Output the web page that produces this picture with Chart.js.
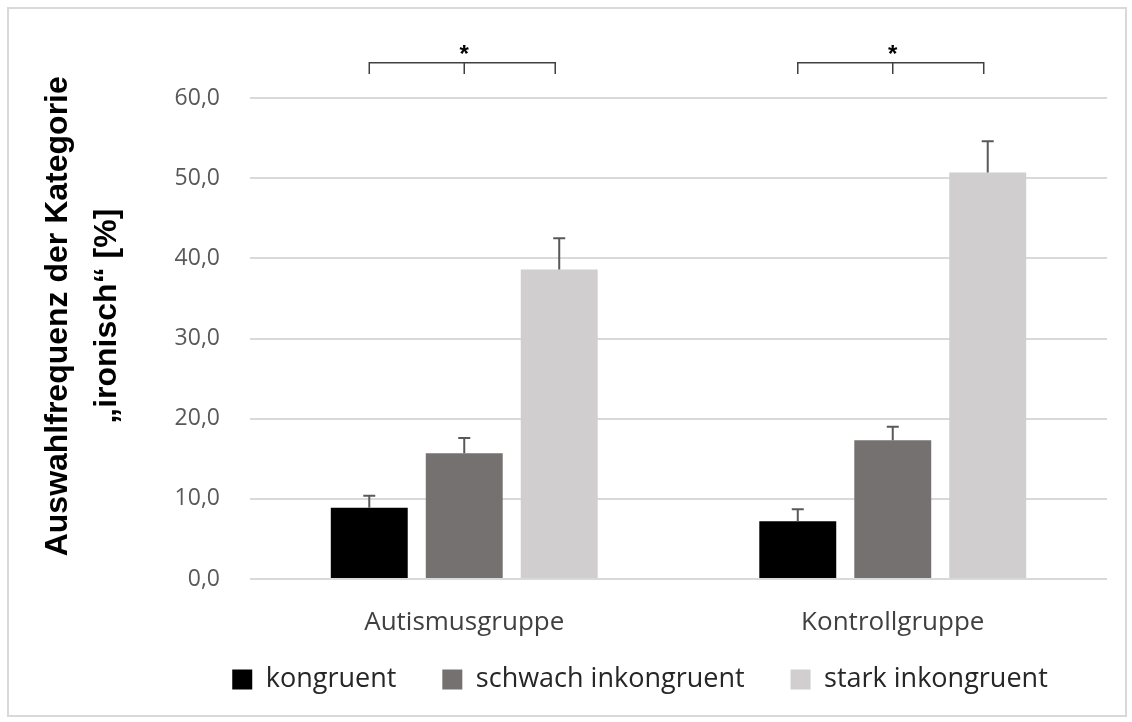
<!DOCTYPE html>
<html>
<head>
<meta charset="utf-8">
<script src="https://cdn.jsdelivr.net/npm/chart.js@4"></script>
<style>
  body { margin: 0; background: #fff; }
  #wrap { position: relative; width: 1132px; height: 722px; }
  #frame { position: absolute; left: 7px; top: 7px; width: 1116px; height: 706px; border: 2px solid #d9d9d9; pointer-events: none; }
</style>
</head>
<body>
<div id="wrap">
  <canvas id="chart" width="1132" height="722"></canvas>
  <div id="frame"></div>
</div>
<script>
const groups = ["Autismusgruppe", "Kontrollgruppe"];
const seriesNames = ["kongruent", "schwach inkongruent", "stark inkongruent"];
const kongruent = [8.9, 7.2];
const schwach = [15.7, 17.3];
const stark = [38.6, 50.7];
const kongruentErr = [1.5, 1.5];
const schwachErr = [1.9, 1.7];
const starkErr = [3.9, 3.9];
const yTicks = [0, 10, 20, 30, 40, 50, 60];
const yTitle = ["Auswahlfrequenz der Kategorie", "\u201eironisch\u201c [%]"];
const bracketLevel = 64.4;
const bracketDrop = 1.4;
const starLevel = 65.8;

const colors = ["#000000", "#767171", "#d0cece"];
const errors = [kongruentErr, schwachErr, starkErr];

const errorBars = {
  id: "errorBars",
  afterDatasetsDraw(chart) {
    const ctx = chart.ctx;
    const y = chart.scales.y;
    ctx.save();
    ctx.strokeStyle = "#595959";
    ctx.lineWidth = 2;
    chart.data.datasets.forEach((ds, i) => {
      chart.getDatasetMeta(i).data.forEach((bar, j) => {
        const top = y.getPixelForValue(ds.data[j] + errors[i][j]);
        ctx.beginPath();
        ctx.moveTo(bar.x, bar.y);
        ctx.lineTo(bar.x, top);
        ctx.moveTo(bar.x - 6, top);
        ctx.lineTo(bar.x + 6, top);
        ctx.stroke();
      });
    });
    ctx.restore();
  }
};

const brackets = {
  id: "brackets",
  afterDraw(chart) {
    const ctx = chart.ctx;
    const y = chart.scales.y;
    const first = chart.getDatasetMeta(0).data;
    const mid = chart.getDatasetMeta(1).data;
    const last = chart.getDatasetMeta(2).data;
    const yTop = y.getPixelForValue(bracketLevel);
    const yBot = y.getPixelForValue(bracketLevel - bracketDrop);
    const yStar = y.getPixelForValue(starLevel);
    ctx.save();
    ctx.strokeStyle = "#404040";
    ctx.lineWidth = 1.5;
    for (let j = 0; j < groups.length; j++) {
      const x0 = first[j].x;
      const x1 = last[j].x - 4;
      const xm = mid[j].x;
      ctx.beginPath();
      ctx.moveTo(x0, yBot);
      ctx.lineTo(x0, yTop);
      ctx.lineTo(x1, yTop);
      ctx.lineTo(x1, yBot);
      ctx.moveTo(xm, yTop);
      ctx.lineTo(xm, yBot);
      ctx.stroke();
      ctx.fillStyle = "#000";
      ctx.font = "bold 24px 'Liberation Sans'";
      ctx.textAlign = "center";
      ctx.textBaseline = "middle";
      ctx.fillText("*", xm, yStar + 4);
    }
    ctx.restore();
  }
};

// nudge the legend to where it sits in the picture
const legendShift = {
  id: "legendShift",
  afterLayout(chart) {
    chart.legend.left += 70;
    chart.legend.right += 70;
    chart.legend.top -= 19;
    chart.legend.bottom -= 19;
  }
};

function createChart() {
  const el = document.getElementById("chart");
  const ctx = el.getContext("2d");
  return new Chart(ctx, {
    type: "bar",
    data: {
      labels: groups,
      datasets: [
        { label: seriesNames[0], data: kongruent, backgroundColor: colors[0] },
        { label: seriesNames[1], data: schwach, backgroundColor: colors[1] },
        { label: seriesNames[2], data: stark, backgroundColor: colors[2] },
      ],
    },
    options: {
      responsive: false,
      animation: false,
      categoryPercentage: 0.665,
      barPercentage: 0.81,
      layout: { padding: { top: 98, right: 25, bottom: 0, left: 33 } },
      plugins: {
        legend: {
          position: "bottom",
          labels: {
            boxWidth: 20,
            boxHeight: 20,
            padding: 46,
            color: "#262626",
            font: { family: "'Open Sans'", size: 27 },
          },
        },
        tooltip: { enabled: false },
      },
      scales: {
        x: {
          grid: { display: false },
          border: { display: false },
          afterFit(scale) {
            scale.height = 60;
          },
          ticks: {
            color: "#404040",
            padding: 20,
            font: { family: "'Open Sans'", size: 26 },
          },
        },
        y: {
          min: 0,
          max: 60,
          afterBuildTicks(scale) {
            scale.ticks = yTicks.map(v => ({ value: v }));
          },
          afterFit(scale) {
            scale.width = 217;
          },
          grid: { color: "#d9d9d9", lineWidth: 2, drawTicks: false },
          border: { display: false },
          ticks: {
            color: "#595959",
            padding: 30,
            font: { family: "'Open Sans'", size: 23 },
            callback: v => v.toFixed(1).replace(".", ","),
          },
          title: {
            display: true,
            text: yTitle.map(t => "     " + t),
            color: "#000",
            font: { family: "'Liberation Sans'", size: 32, weight: "bold", lineHeight: 1.55 },
            padding: 0,
          },
        },
      },
    },
    plugins: [errorBars, brackets, legendShift],
  });
}

createChart();
</script>
</body>
</html>
